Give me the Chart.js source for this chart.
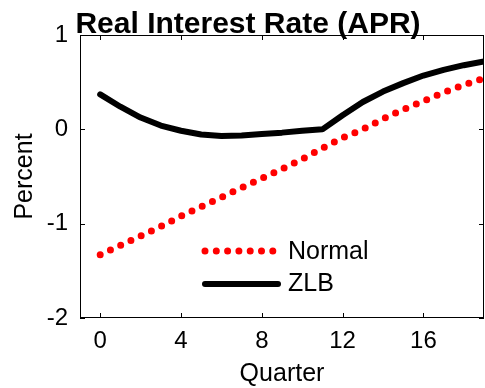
<!DOCTYPE html>
<html>
<head>
<meta charset="utf-8">
<script src="https://cdn.jsdelivr.net/npm/chart.js@4"></script>
<style>
  body { margin: 0; background: #fff; }
  #wrap { width: 485px; height: 388px; }
</style>
</head>
<body>
<div id="wrap"><canvas id="rateChart"></canvas></div>
<script>
const quarters = [0, 1, 2, 3, 4, 5, 6, 7, 8, 9, 10, 11, 12, 13, 14, 15, 16, 17, 18, 19];
const normalRate = [-1.33, -1.23, -1.13, -1.03, -0.92, -0.82, -0.72, -0.62, -0.52, -0.42,
                    -0.315, -0.2, -0.09, 0.0, 0.11, 0.21, 0.30, 0.39, 0.47, 0.54];
const zlbRate = [0.37, 0.24, 0.125, 0.04, -0.015, -0.055, -0.07, -0.065, -0.05, -0.035,
                 -0.015, 0.0, 0.15, 0.29, 0.40, 0.49, 0.57, 0.63, 0.68, 0.72];
const xTicks = [0, 4, 8, 12, 16];
const yTicks = [-2, -1, 0, 1];
const seriesNames = ['Normal', 'ZLB'];
const chartTitle = 'Real Interest Rate (APR)';

const FONT = '"Liberation Sans", Arial, sans-serif';

// box, inward ticks, title and legend, MATLAB style
const matlabFrame = {
    id: 'matlabFrame',
    afterDatasetsDraw(chart) {
        const ctx = chart.ctx;
        const a = chart.chartArea;
        const xs = chart.scales.x;
        const ys = chart.scales.y;
        ctx.save();
        ctx.strokeStyle = '#000';
        ctx.lineWidth = 1;
        ctx.strokeRect(a.left + 0.5, a.top + 0.5, a.right - a.left - 1, a.bottom - a.top - 1);
        ctx.beginPath();
        xTicks.forEach(v => {
            const px = Math.round(xs.getPixelForValue(v)) + 0.5;
            ctx.moveTo(px, a.bottom); ctx.lineTo(px, a.bottom - 5);
            ctx.moveTo(px, a.top); ctx.lineTo(px, a.top + 5);
        });
        yTicks.forEach(v => {
            const py = Math.round(ys.getPixelForValue(v)) + 0.5;
            ctx.moveTo(a.left, py); ctx.lineTo(a.left + 5, py);
            ctx.moveTo(a.right, py); ctx.lineTo(a.right - 5, py);
        });
        ctx.stroke();

        // title
        ctx.fillStyle = '#000';
        ctx.font = 'bold 30px ' + FONT;
        ctx.textAlign = 'center';
        ctx.textBaseline = 'alphabetic';
        ctx.fillText(chartTitle, 248, 33);

        // legend
        const ds = chart.data.datasets;
        ctx.lineCap = 'round';
        ctx.strokeStyle = ds[0].borderColor;
        ctx.lineWidth = ds[0].borderWidth;
        ctx.setLineDash(ds[0].borderDash);
        ctx.beginPath(); ctx.moveTo(205, 251); ctx.lineTo(276, 251); ctx.stroke();
        ctx.setLineDash([]);
        ctx.strokeStyle = ds[1].borderColor;
        ctx.lineWidth = ds[1].borderWidth;
        ctx.beginPath(); ctx.moveTo(205, 284); ctx.lineTo(278, 284); ctx.stroke();
        ctx.font = '25px ' + FONT;
        ctx.textAlign = 'left';
        ctx.textBaseline = 'middle';
        ctx.fillText(seriesNames[0], 288, 252);
        ctx.fillText(seriesNames[1], 288, 284);
        ctx.restore();
    }
};

const ctx = document.getElementById('rateChart').getContext('2d');
const chart = new Chart(ctx, {
    type: 'line',
    data: {
        datasets: [{
            label: seriesNames[0],
            data: quarters.map((q, i) => ({ x: q, y: normalRate[i] })),
            borderColor: '#ff0000',
            borderWidth: 7,
            borderDash: [0, 11.3],
            borderCapStyle: 'round',
            pointRadius: 0,
            tension: 0
        }, {
            label: seriesNames[1],
            data: quarters.map((q, i) => ({ x: q, y: zlbRate[i] })),
            borderColor: '#000000',
            borderWidth: 6,
            borderCapStyle: 'round',
            borderJoinStyle: 'round',
            pointRadius: 0,
            tension: 0
        }]
    },
    options: {
        responsive: true,
        maintainAspectRatio: false,
        animation: false,
        layout: { padding: { top: 35, right: 1, left: 0, bottom: 0 } },
        plugins: {
            legend: { display: false },
            title: { display: false },
            tooltip: { enabled: false }
        },
        scales: {
            x: {
                type: 'linear',
                min: -1,
                max: 19,
                afterBuildTicks: s => { s.ticks = xTicks.map(v => ({ value: v })); },
                afterFit: s => { s.height = 70; },
                grid: { display: false, drawTicks: false },
                border: { display: false },
                ticks: { color: '#000', font: { family: FONT, size: 24 }, padding: 9, maxRotation: 0 },
                title: { display: true, text: 'Quarter', color: '#000', font: { family: FONT, size: 25 }, padding: { top: 0, bottom: -1 } }
            },
            y: {
                min: -2,
                max: 1,
                afterBuildTicks: s => { s.ticks = yTicks.map(v => ({ value: v })); },
                afterFit: s => { s.width = 80; },
                grid: { display: false, drawTicks: false },
                border: { display: false },
                ticks: { color: '#000', font: { family: FONT, size: 24 }, padding: 12, callback: v => String(v) },
                title: { display: true, text: 'Percent', color: '#000', font: { family: FONT, size: 25 }, padding: { top: 10, bottom: 0 } }
            }
        }
    },
    plugins: [matlabFrame]
});
</script>
</body>
</html>
